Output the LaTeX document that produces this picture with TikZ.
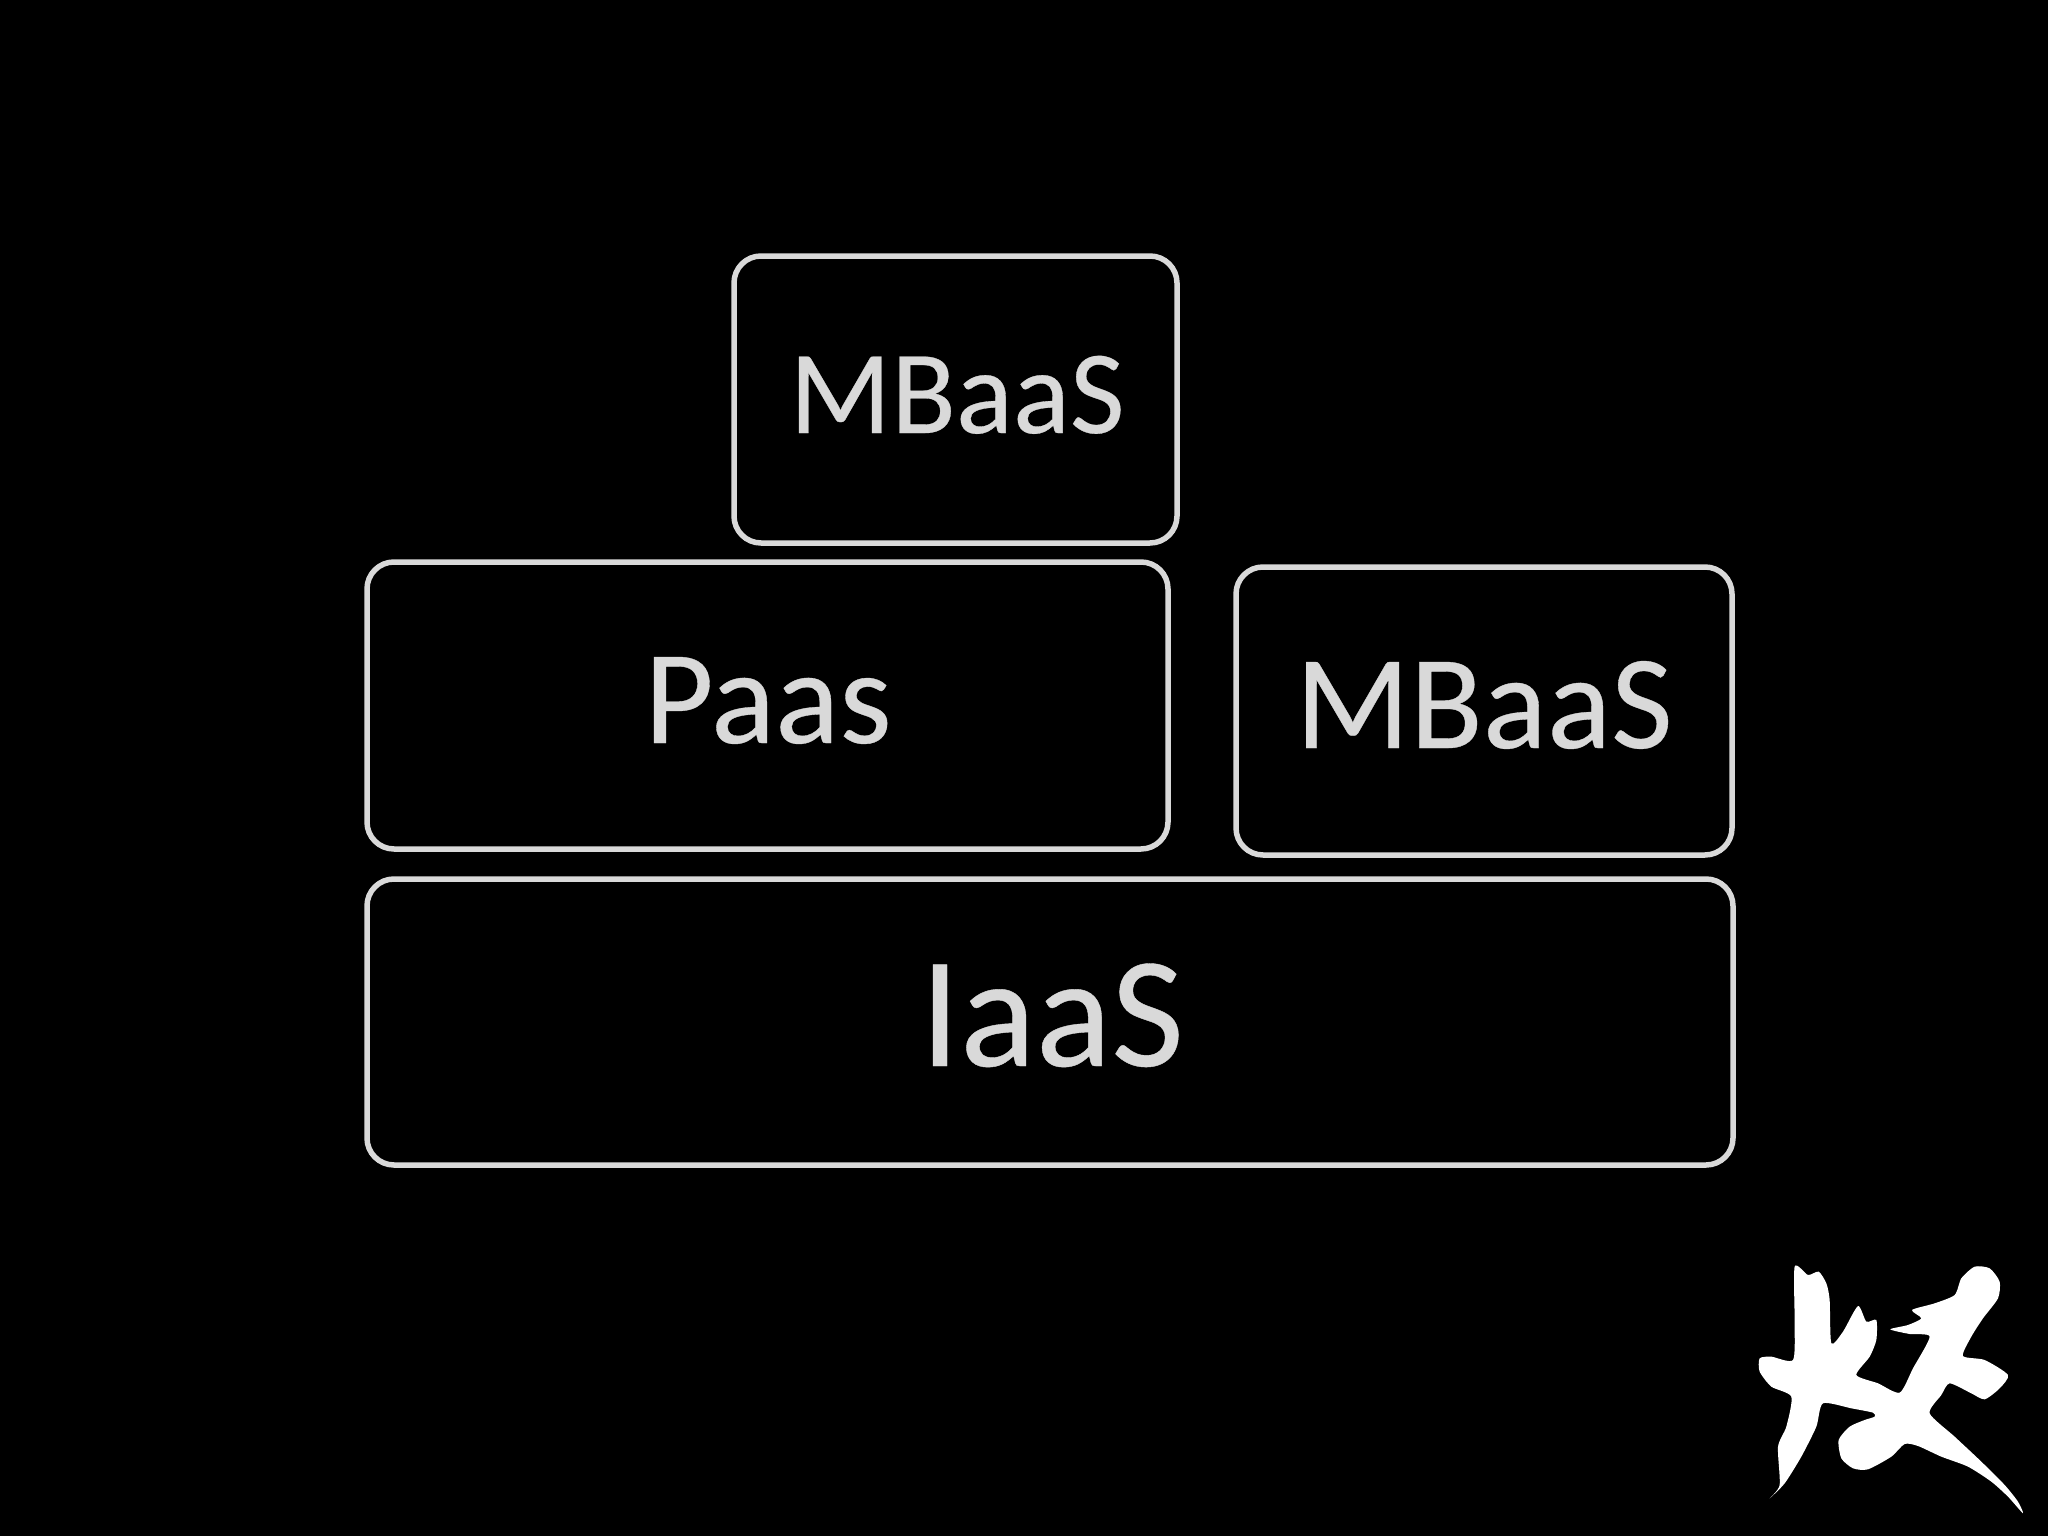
\documentclass[tikz,border=0pt]{standalone}
\usepackage{fontspec}
\setmainfont[FakeBold=0.25]{Carlito}
\definecolor{fg}{HTML}{D9D9D9}
\tikzset{
  boxnode/.style={draw=fg,line width=5.5pt,rounded corners=27pt,anchor=north west,inner sep=0pt,outer sep=0pt},
  labelnode/.style={text=fg,anchor=base,inner sep=0pt}
}
\newcommand{\fsz}[1]{\fontsize{#1}{#1}\selectfont}
\begin{document}
\begin{tikzpicture}[x=1pt,y=-1pt]
\path[use as bounding box,fill=black] (0,0) rectangle (2048,1536);
\node[boxnode,minimum width=443pt,minimum height=287pt] (top) at (734,256) {};
\node[boxnode,minimum width=801pt,minimum height=287pt] (paas) at (367,562) {};
\node[boxnode,minimum width=496pt,minimum height=288pt] (mbr) at (1236,567) {};
\node[boxnode,minimum width=1366pt,minimum height=286pt] (iaas) at (367,879) {};
\node[labelnode,font=\fsz{119}] (ltop) at (957,433) {MBaaS};
\node[labelnode,font=\fsz{134}] (lpaas) at (768,743) {Paas};
\node[labelnode,font=\fsz{134}] (lmbr) at (1484,748) {MBaaS};
\node[labelnode,font=\fsz{158}] (liaas) at (1052,1066) {IaaS};
\begin{scope}[shift={(1728,1240)},x=0.3333pt,y=-0.3333pt]
\fill[white] plot[smooth cycle,tension=0.4] coordinates {
(200,80)(240,105)(272,95)(295,130)(305,180)(310,310)(345,275)(390,198)(415,245)(445,240)(445,300)(425,350)(385,405)(450,430)(515,458)(555,385)(605,290)(545,282)(487,268)(540,255)(580,235)(552,210)(620,190)(680,165)(700,115)(740,80)(785,85)(815,125)(810,175)(765,235)(730,290)(705,348)(770,360)(840,405)(815,445)(770,478)(730,460)(665,430)(640,465)(605,520)(680,590)(760,665)(830,735)(870,785)(885,820)(840,770)(790,725)(720,680)(640,650)(570,618)(530,612)(490,650)(420,688)(375,685)(340,655)(332,600)(365,560)(410,540)(440,530)(435,518)(370,505)(285,490)(265,560)(220,650)(170,730)(125,775)(155,735)(150,620)(175,560)(190,470)(130,440)(95,395)(95,355)(130,350)(195,360)(200,250)};
\end{scope}
\end{tikzpicture}
\end{document}
